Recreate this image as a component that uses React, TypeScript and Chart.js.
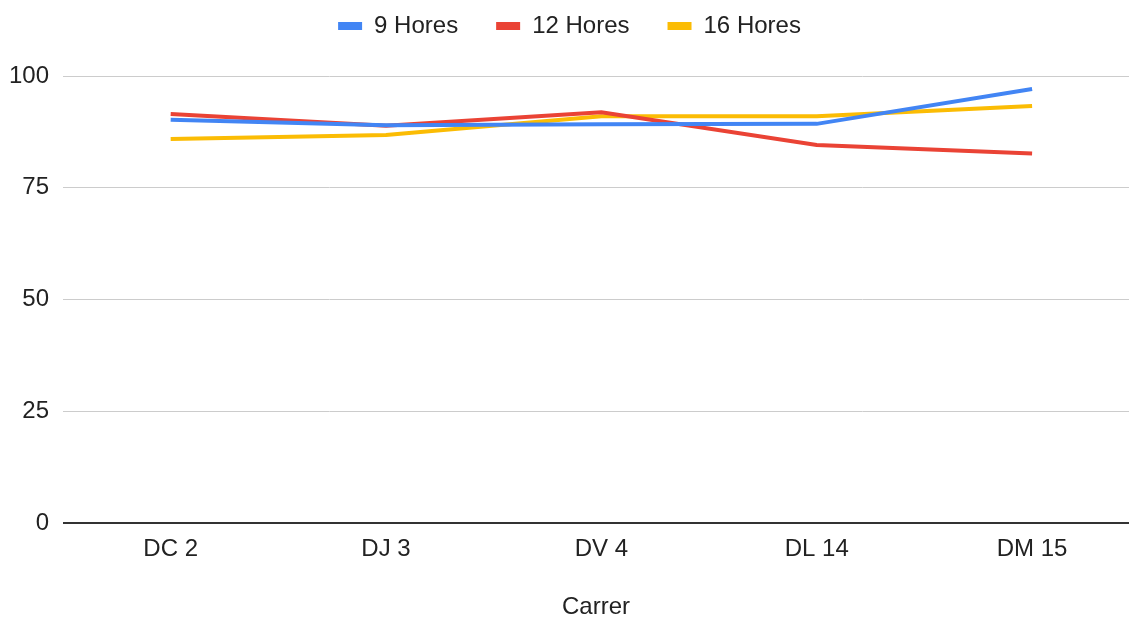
import React, { useEffect, useRef } from "react";
import { Chart, registerables } from "chart.js";

Chart.register(...registerables);

const categories = ["DC 2", "DJ 3", "DV 4", "DL 14", "DM 15"];
const hores9 = [90.2, 89.0, 89.2, 89.3, 97.1];
const hores12 = [91.5, 88.9, 91.9, 84.6, 82.7];
const hores16 = [85.9, 86.8, 91.0, 91.0, 93.3];
const yTicks = [0, 25, 50, 75, 100];

const FONT = "'Liberation Sans', Arial, sans-serif";
const FS = 24;

export default function App() {
  const ref = useRef<HTMLCanvasElement | null>(null);

  useEffect(() => {
    document.body.style.margin = "0";
    const canvas = ref.current;
    if (!canvas) return;
    const toPts = (arr: number[]) => arr.map((y, i) => ({ x: i, y }));
    const legendTweak = {
      id: "legendTweak",
      beforeInit(chart: any) {
        const lg = chart.legend;
        const origFit = lg.fit;
        lg.fit = function () {
          origFit.call(lg);
          lg.height += 4;
        };
        const origDraw = lg.draw;
        lg.draw = function () {
          const t = lg.top, l = lg.left, r = lg.right;
          lg.top = t - 24;
          lg.left = l + 5;
          lg.right = r + 5;
          origDraw.call(lg);
          lg.top = t;
          lg.left = l;
          lg.right = r;
        };
      },
    };
    const chart = new Chart(canvas, {
      type: "line",
      data: {
        datasets: [
          { label: "9 Hores", data: toPts(hores9), borderColor: "#4285F4", backgroundColor: "#4285F4" },
          { label: "12 Hores", data: toPts(hores12), borderColor: "#EA4335", backgroundColor: "#EA4335" },
          { label: "16 Hores", data: toPts(hores16), borderColor: "#FBBC04", backgroundColor: "#FBBC04" },
        ].map((d) => ({ ...d, borderWidth: 4, pointRadius: 0, tension: 0, fill: false })),
      },
      plugins: [legendTweak],
      options: {
        animation: false,
        responsive: false,
        layout: { padding: { top: 0, right: 0, bottom: 0, left: 0 } },
        plugins: {
          tooltip: { enabled: false },
          legend: {
            position: "top",
            labels: {
              boxWidth: 24,
              boxHeight: 8,
              padding: 38,
              color: "#222",
              font: { family: FONT, size: FS },
              generateLabels: (c: any) =>
                Chart.defaults.plugins.legend.labels
                  .generateLabels(c)
                  .map((l: any) => ({ ...l, lineWidth: 0 })),
            },
          },
        },
        scales: {
          x: {
            type: "linear",
            min: -0.5,
            max: 4.45,
            afterBuildTicks: (scale: any) => {
              scale.ticks = categories.map((_, i) => ({ value: i }));
            },
            ticks: {
              autoSkip: false,
              maxRotation: 0,
              padding: 12,
              color: "#222",
              font: { family: FONT, size: FS },
              callback: (v: any) => categories[Number(v)] ?? "",
            },
            grid: { display: false, drawTicks: false },
            border: { display: false },
            title: {
              display: true,
              text: "Carrer",
              color: "#222",
              font: { family: FONT, size: FS },
              padding: { top: 17, bottom: -3 },
            },
          },
          y: {
            min: 0,
            max: 100,
            afterBuildTicks: (scale: any) => {
              scale.ticks = yTicks.map((value) => ({ value }));
            },
            afterFit: (scale: any) => {
              scale.width = 63;
            },
            ticks: {
              padding: 14,
              color: "#222",
              font: { family: FONT, size: FS },
            },
            grid: {
              drawTicks: false,
              color: (ctx: any) => (ctx.tick && ctx.tick.value === 0 ? "#333" : "#ccc"),
              lineWidth: (ctx: any) => (ctx.tick && ctx.tick.value === 0 ? 2 : 1),
            },
            border: { display: false },
          },
        },
      },
    });
    return () => chart.destroy();
  }, []);

  return <canvas ref={ref} width={1129} height={619} style={{ display: "block" }} />;
}
